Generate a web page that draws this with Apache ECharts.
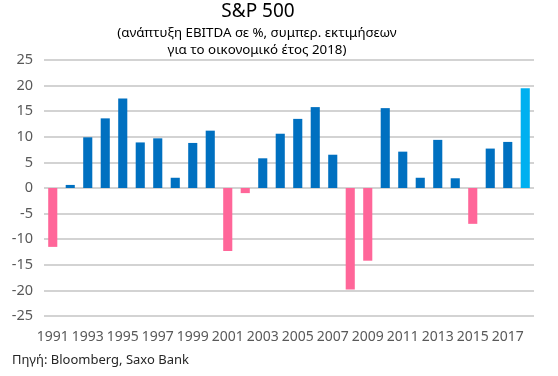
<!DOCTYPE html>
<html lang="el">
<head>
    <meta charset="UTF-8">
    <title>S&P 500</title>
    <style>
        html, body { margin: 0; padding: 0; background: #fff; }
        #main { width: 558px; height: 376px; }
    </style>
</head>
<body>
    <div id="main"></div>
    <script src="https://cdn.jsdelivr.net/npm/echarts@6/dist/echarts.min.js"></script>
    <script>
        // χρονιές και ανάπτυξη EBITDA (%)
        var years = ['1991', '1992', '1993', '1994', '1995', '1996', '1997', '1998', '1999', '2000',
            '2001', '2002', '2003', '2004', '2005', '2006', '2007', '2008', '2009', '2010',
            '2011', '2012', '2013', '2014', '2015', '2016', '2017', '2018'];
        var growth = [-11.5, 0.6, 9.9, 13.6, 17.5, 8.9, 9.7, 2.0, 8.8, 11.2,
            -12.3, -1.0, 5.8, 10.6, 13.5, 15.8, 6.5, -19.8, -14.2, 15.6,
            7.1, 2.0, 9.4, 1.9, -7.0, 7.7, 9.0, 19.5];
        var estimateYear = '2018';

        var chart = echarts.init(document.getElementById('main'));
        var font = 'Noto Sans';

        var option = {
            animation: false,
            backgroundColor: '#ffffff',
            textStyle: { fontFamily: font },
            graphic: [
                { type: 'text', x: 258, y: 12, style: { text: 'S&P 500', fontFamily: font, fontSize: 19, fill: '#000', textAlign: 'center', textVerticalAlign: 'middle' } },
                { type: 'text', x: 257, y: 33, style: { text: '(ανάπτυξη EBITDA σε %, συμπερ. εκτιμήσεων', fontFamily: font, fontSize: 13.3, fill: '#000', textAlign: 'center', textVerticalAlign: 'middle' } },
                { type: 'text', x: 257, y: 50, style: { text: 'για το οικονομικό έτος 2018)', fontFamily: font, fontSize: 13.3, fill: '#000', textAlign: 'center', textVerticalAlign: 'middle' } },
                { type: 'text', x: 12, y: 360, style: { text: 'Πηγή: Bloomberg, Saxo Bank', fontFamily: font, fontSize: 13, fill: '#262626', textVerticalAlign: 'middle' } }
            ],
            grid: { left: 44, right: 24, top: 60, bottom: 60, containLabel: false },
            xAxis: {
                type: 'category',
                data: years,
                axisLine: { show: false },
                axisTick: { show: false },
                axisLabel: { interval: 1, color: '#595959', fontSize: 14, margin: 14 }
            },
            yAxis: {
                type: 'value',
                min: -25,
                max: 25,
                interval: 5,
                axisLine: { show: false },
                axisTick: { show: false },
                axisLabel: { color: '#595959', fontSize: 14.5, margin: 11 },
                splitLine: { lineStyle: { color: '#C4C4C4', width: 1.5 } }
            },
            series: [{
                type: 'bar',
                data: growth,
                barWidth: '52%',
                itemStyle: {
                    color: function (p) {
                        if (years[p.dataIndex] === estimateYear) return '#00B0F0';
                        return p.value < 0 ? '#FF6699' : '#0070C0';
                    }
                }
            }]
        };
        chart.setOption(option);
    </script>
</body>
</html>
